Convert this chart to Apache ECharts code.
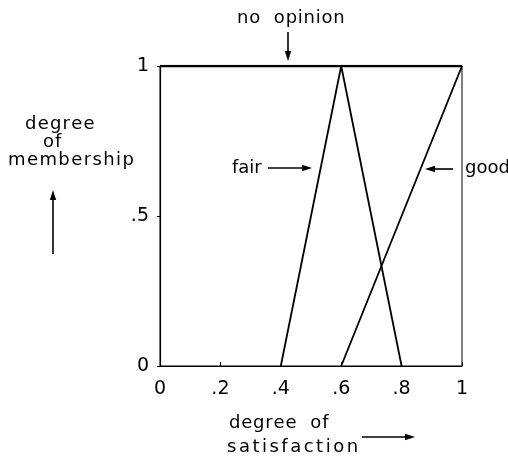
<!DOCTYPE html>
<html>
<head>
<meta charset="utf-8">
<script src="https://cdn.jsdelivr.net/npm/echarts@6/dist/echarts.min.js"></script>
<style>
  html,body{margin:0;padding:0;background:#fff;}
  #chart{width:508px;height:457px;}
</style>
</head>
<body>
<div id="chart"></div>
<script>
// 数据
var xTicks = [0, 0.2, 0.4, 0.6, 0.8, 1];
var yTicks = [0, 0.5, 1];
var noOpinion = [[0, 1], [1, 1]];
var fair = [[0.4, 0], [0.6, 1], [0.8, 0]];
var good = [[0.6, 0], [1, 1]];

var font = 'DejaVu Sans';
var fontStr = '18px "' + font + '"';

// 去掉前导0: 0.2 -> .2
function tickText(v) {
    var s = String(Math.round(v * 10) / 10);
    return s.indexOf('0.') === 0 ? s.substring(1) : s;
}

// 量字宽
var measureCtx = document.createElement('canvas').getContext('2d');
measureCtx.font = fontStr;

// 字间距加宽的文字 (逐字画, 左对齐)
function txt(x, y, s, spacing) {
    var els = [], cx = x;
    for (var i = 0; i < s.length; i++) {
        els.push({
            type: 'text',
            x: cx, y: y,
            style: {text: s[i], font: fontStr, fill: '#000', align: 'left', verticalAlign: 'middle'}
        });
        cx += measureCtx.measureText(s[i]).width + spacing;
    }
    return els;
}

// 箭头 (线 + 三角)
function arrow(x1, y1, x2, y2) {
    var dx = x2 - x1, dy = y2 - y1;
    var len = Math.sqrt(dx * dx + dy * dy);
    var ux = dx / len, uy = dy / len;
    var hl = 10, hw = 3.2;
    var bx = x2 - ux * hl, by = y2 - uy * hl;
    return [{
        type: 'line',
        shape: {x1: x1, y1: y1, x2: bx, y2: by},
        style: {stroke: '#000', lineWidth: 1.6}
    }, {
        type: 'polygon',
        shape: {points: [[x2, y2], [bx - uy * hw, by + ux * hw], [bx + uy * hw, by - ux * hw]]},
        style: {fill: '#000'}
    }];
}

var graphics = [].concat(
    txt(237, 18, 'no  opinion', 0.75),
    txt(25, 124, 'degree', 1.2),
    txt(43, 142, 'of', 1),
    txt(8, 160, 'membership', 1.4),
    txt(232, 168, 'fair', 0),
    txt(465, 168, 'good', 0),
    txt(229, 423, 'degree  of', 0.8),
    txt(227, 447, 'satisfaction', 2.5),
    arrow(288, 32, 288, 61),
    arrow(53, 254, 53, 190),
    arrow(268, 168, 312, 168),
    arrow(453, 169, 425, 169),
    arrow(362, 437, 415, 437)
);

function lineSeries(name, data, w) {
    return {
        name: name,
        type: 'line',
        data: data,
        symbol: 'none',
        lineStyle: {color: '#000', width: w},
        z: 3
    };
}

var option = {
    animation: false,
    backgroundColor: '#fff',
    textStyle: {fontFamily: font},
    grid: {left: 160, right: 46, top: 66, bottom: 91, show: true, borderColor: '#000', borderWidth: 1},
    xAxis: {
        type: 'value',
        min: xTicks[0], max: xTicks[xTicks.length - 1], interval: 0.2,
        axisLine: {lineStyle: {color: '#000', width: 1.2}},
        axisTick: {inside: true, length: 4, lineStyle: {color: '#000'}},
        axisLabel: {color: '#000', fontSize: 19, margin: 14, formatter: tickText},
        splitLine: {show: false}
    },
    yAxis: {
        type: 'value',
        min: yTicks[0], max: yTicks[yTicks.length - 1], interval: 0.5,
        axisLine: {show: true, lineStyle: {color: '#000', width: 1.2}},
        axisTick: {show: true, length: 3, lineStyle: {color: '#000'}},
        axisLabel: {color: '#000', fontSize: 19, margin: 11, formatter: tickText},
        splitLine: {show: false}
    },
    graphic: graphics,
    series: [
        lineSeries('no opinion', noOpinion, 2.5),
        lineSeries('fair', fair, 1.8),
        lineSeries('good', good, 1.8)
    ]
};

var myChart = echarts.init(document.getElementById('chart'));
myChart.setOption(option);
</script>
</body>
</html>
